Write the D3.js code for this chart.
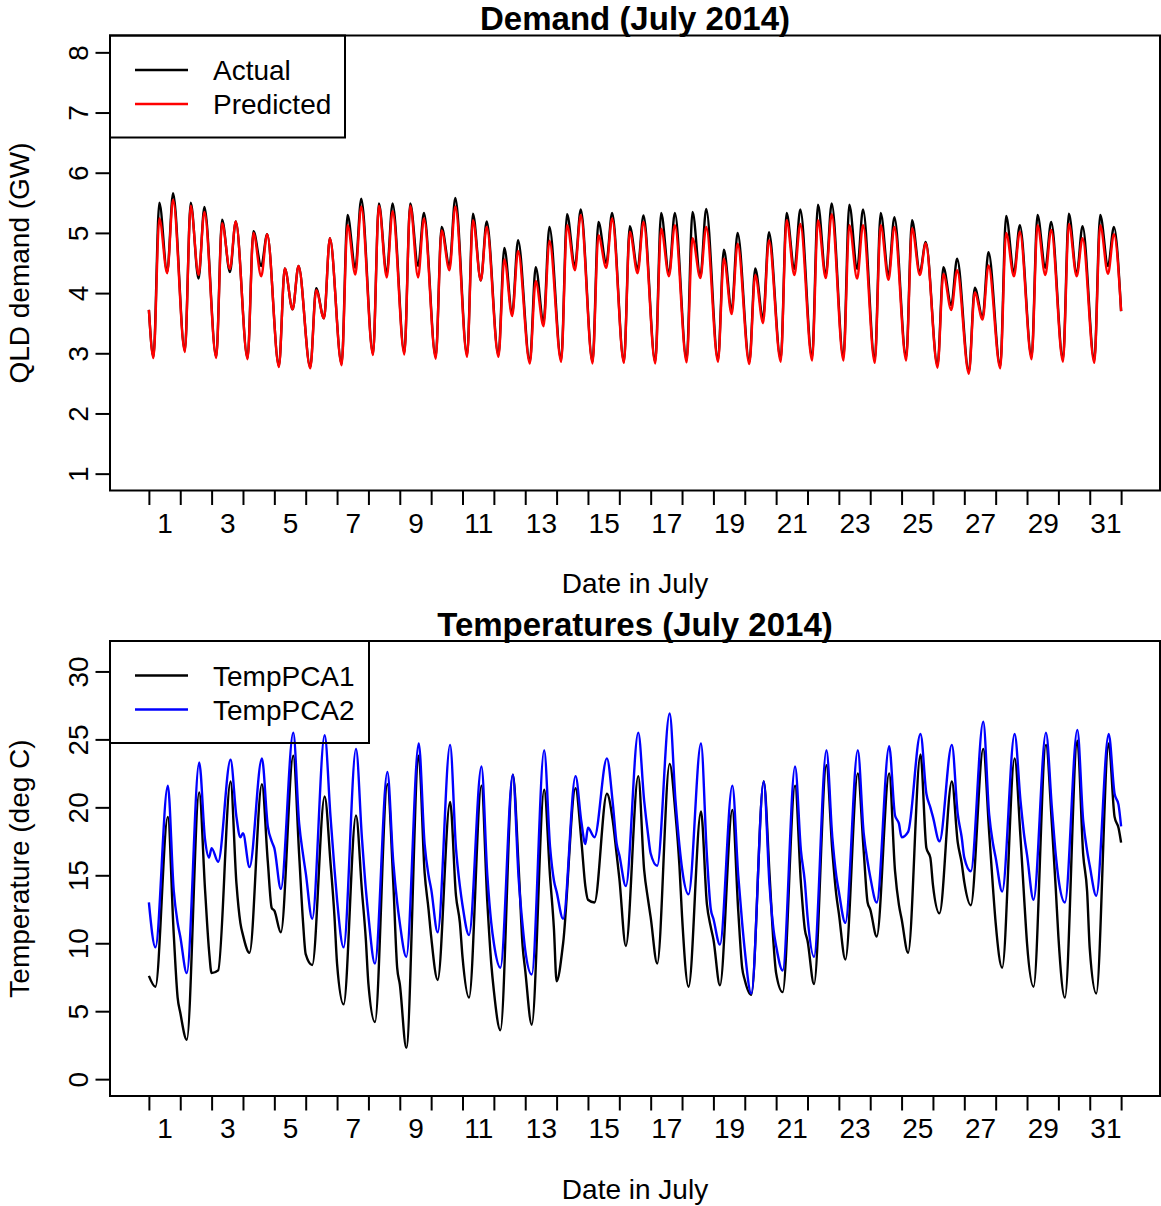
<!DOCTYPE html>
<html><head><meta charset="utf-8">
<script src="https://cdn.jsdelivr.net/npm/d3@7"></script>
<style>
body{margin:0;background:#fff}
svg{display:block}
text{font-family:"Liberation Sans",Arial,Helvetica,sans-serif;fill:#000}
</style>
</head><body>
<svg id="chart" width="1161" height="1206"></svg>
<script>
// ---------------- DATA ----------------
const nDays = 31;
const dayTickLabels = [1,3,5,7,9,11,13,15,17,19,21,23,25,27,29,31];
const demandTicks = [1,2,3,4,5,6,7,8];
const tempTicks = [0,5,10,15,20,25,30];

// demand (GW), per day read at hours [overnight min, morning peak, midday dip, evening peak]
const demandHours = [3.5, 8, 14, 18.5];
const demandEdges = [3.72, 3.70]; // value at 1 July 00:00 and at 1 Aug 00:00
const demandActual = [
 [2.94,5.50,4.35,5.66],[3.04,5.50,4.24,5.43],[2.94,5.22,4.35,5.19],[2.92,5.03,4.45,4.98],
 [2.79,4.41,3.73,4.45],[2.77,4.08,3.58,4.91],[2.82,5.30,4.42,5.57],[2.99,5.49,4.33,5.49],
 [3.01,5.49,4.45,5.33],[2.94,5.10,4.45,5.58],[2.97,5.32,4.21,5.19],[2.97,4.75,3.66,4.88],
 [2.86,4.43,3.52,5.10],[2.89,5.31,4.45,5.39],[2.86,5.18,4.50,5.33],[2.86,5.11,4.40,5.29],
 [2.86,5.33,4.32,5.33],[2.89,5.35,4.27,5.40],[2.89,4.72,3.72,5.00],[2.86,4.41,3.58,5.01],
 [2.90,5.33,4.40,5.39],[2.93,5.47,4.30,5.49],[2.93,5.47,4.40,5.39],[2.89,5.33,4.30,5.26],
 [2.93,5.21,4.35,4.85],[2.80,4.43,3.80,4.57],[2.69,4.09,3.60,4.68],[2.78,5.28,4.35,5.13],
 [2.94,5.30,4.42,5.18],[2.90,5.32,4.32,5.11],[2.88,5.30,4.45,5.10]
];
const demandPredicted = [
 [2.92,5.24,4.33,5.55],[3.02,5.45,4.30,5.35],[2.92,5.16,4.40,5.19],[2.90,5.00,4.28,4.98],
 [2.77,4.41,3.73,4.45],[2.75,4.05,3.58,4.91],[2.80,5.13,4.31,5.44],[2.97,5.45,4.26,5.36],
 [2.98,5.45,4.26,5.24],[2.91,5.04,4.38,5.44],[2.94,5.21,4.21,5.10],[2.94,4.56,3.62,4.70],
 [2.83,4.20,3.45,4.87],[2.86,5.13,4.38,5.30],[2.83,4.96,4.42,5.24],[2.84,5.02,4.33,5.18],
 [2.83,5.07,4.28,5.13],[2.85,4.91,4.25,5.10],[2.86,4.57,3.65,4.82],[2.82,4.30,3.50,4.88],
 [2.86,5.21,4.30,5.15],[2.88,5.21,4.25,5.31],[2.88,5.13,4.24,5.13],[2.84,5.13,4.22,5.10],
 [2.88,5.08,4.30,4.83],[2.76,4.32,3.72,4.38],[2.66,4.01,3.56,4.46],[2.75,5.00,4.28,5.02],
 [2.90,5.13,4.30,5.05],[2.86,5.15,4.28,4.91],[2.84,5.13,4.32,4.98]
];

// temperatures (deg C), per day read at hours below
const tempHours = [0, 5, 14.5, 19, 22];
const tempEnds = [17.4, 18.6]; // values at 1 Aug 00:00 (PCA1, PCA2)
const tempPCA1 = [
 [7.6,6.8,19.3,10.7,6.0],[4.9,2.9,21.1,13.9,9.5],[7.8,8.0,21.9,14.4,11.5],[10.6,9.3,21.7,16.0,12.6],
 [12.4,10.8,23.8,16.5,11.5],[9.2,8.4,20.8,15.9,12.0],[8.5,5.5,19.4,13.9,10.3],[7.0,4.2,21.7,14.5,8.2],
 [7.0,2.3,23.8,15.2,12.5],[10.5,7.3,20.4,13.5,11.5],[9.0,6.0,21.6,13.0,8.5],[6.5,3.6,22.4,15.5,9.8],
 [8.0,4.0,21.3,14.9,11.0],[7.2,10.0,21.4,17.5,14.2],[13.2,13.0,21.0,19.0,16.5],[14.8,9.8,22.3,15.4,13.2],
 [11.9,8.5,23.2,19.5,15.7],[12.0,6.8,19.7,12.9,11.2],[10.3,6.9,19.8,12.4,8.2],[7.3,6.2,21.9,15.0,10.0],
 [7.8,6.4,21.6,14.4,11.0],[10.2,7.0,23.1,16.8,13.6],[12.2,8.8,22.5,16.8,13.0],[12.5,10.5,22.5,15.3,12.8],
 [11.8,9.3,23.9,17.0,16.3],[14.3,12.2,21.9,17.4,15.9],[14.5,12.8,24.3,18.2,14.0],[11.5,8.2,23.6,17.8,13.0],
 [10.0,6.8,24.6,18.8,14.0],[10.5,6.0,24.9,16.5,13.8],[9.6,6.3,24.7,19.3,18.5]
];
const tempPCA2 = [
 [13.0,9.7,21.6,13.9,11.5],[10.5,7.8,23.3,17.6,16.3],[17.0,16.0,23.5,19.3,17.8],[18.1,15.6,23.6,18.6,17.5],
 [17.0,14.0,25.5,18.8,16.5],[15.2,11.8,25.3,19.3,15.5],[13.2,9.7,24.3,17.8,14.0],[12.0,8.5,22.6,16.0,13.0],
 [11.5,9.0,24.7,17.3,15.0],[14.0,10.8,24.6,17.0,14.2],[12.8,10.6,23.0,15.0,11.5],[10.0,8.2,22.4,14.7,11.3],
 [9.5,7.7,24.2,17.1,14.6],[13.8,11.8,22.3,18.9,17.3],[18.5,17.8,23.6,20.3,17.3],[16.5,14.2,25.5,20.5,18.0],
 [16.6,15.7,26.9,20.5,17.2],[15.5,13.6,24.7,16.5,12.5],[11.8,9.9,21.6,15.0,11.5],[9.5,6.3,21.9,14.2,11.0],
 [9.8,8.0,23.0,16.8,14.5],[12.0,9.0,24.2,17.8,15.0],[13.8,11.5,24.2,18.1,16.0],[14.9,13.0,24.5,19.4,18.8],
 [17.8,18.2,25.4,21.0,20.0],[19.3,17.5,24.6,19.5,17.8],[16.3,15.3,26.3,19.5,17.3],[16.3,13.8,25.4,20.5,17.8],
 [16.5,13.2,25.5,20.0,16.5],[14.8,13.0,25.7,19.0,16.8],[15.7,13.5,25.4,21.0,20.2]
];

// ---------------- BUILD ----------------
function toPoints(perDay, hours, startVal, endVal) {
  const pts = [];
  if (startVal != null) pts.push({t: 0, v: startVal});
  perDay.forEach((vals, d) => vals.forEach((v, k) => pts.push({t: d + hours[k] / 24, v})));
  pts.push({t: nDays, v: endVal});
  return pts;
}

const svg = d3.select('#chart');
const FS = 28;
const LW = 2.4;
const x = d3.scaleLinear().domain([-0.04 * nDays, nDays * 1.04]).range([110, 1160]);

function panel(o) {
  const g = svg.append('g');
  const y = d3.scaleLinear().domain(o.yDomain).range([o.bottom, o.top]);
  const line = d3.line().x(d => x(d.t)).y(d => y(d.v)).curve(d3.curveMonotoneX);
  o.series.forEach(s => {
    g.append('path').datum(s.points).attr('d', line)
      .attr('fill', 'none').attr('stroke', s.color).attr('stroke-width', LW)
      .attr('stroke-linejoin', 'round');
  });
  // box
  g.append('rect').attr('x', 110).attr('y', o.top).attr('width', 1050).attr('height', o.bottom - o.top)
    .attr('fill', 'none').attr('stroke', '#000').attr('stroke-width', 2);
  // x ticks at day boundaries
  const xt = g.append('g').attr('transform', `translate(0,${o.bottom})`)
    .call(d3.axisBottom(x).tickValues(d3.range(0, nDays + 1)).tickSize(14.5).tickFormat(''));
  xt.select('.domain').remove();
  xt.selectAll('line').attr('stroke', '#000').attr('stroke-width', 2);
  // x labels at noon of odd days
  const xl = g.append('g').attr('transform', `translate(0,${o.bottom})`)
    .call(d3.axisBottom(x).tickValues(dayTickLabels.map(d => d - 0.5)).tickSize(0)
      .tickFormat((d, i) => dayTickLabels[i]));
  xl.select('.domain').remove();
  xl.selectAll('text').attr('y', 42.2).attr('dy', null)
    .style('font-size', FS + 'px').style('font-family', '"Liberation Sans",Arial,sans-serif').attr('fill', '#000');
  // y axis
  const ya = g.append('g').attr('transform', 'translate(110,0)')
    .call(d3.axisLeft(y).tickValues(o.yTicks).tickSize(14.5));
  ya.select('.domain').remove();
  ya.selectAll('line').attr('stroke', '#000').attr('stroke-width', 2);
  ya.selectAll('text').attr('x', 0).attr('y', 0).attr('dy', null)
    .attr('transform', 'translate(-22,0) rotate(-90)').attr('text-anchor', 'middle')
    .style('font-size', FS + 'px').style('font-family', '"Liberation Sans",Arial,sans-serif').attr('fill', '#000');
  // titles
  g.append('text').attr('x', 635).attr('y', o.top - 5.5).attr('text-anchor', 'middle')
    .style('font-size', '33px').style('font-weight', 'bold').text(o.title);
  g.append('text').attr('x', 635).attr('y', o.bottom + 102.5).attr('text-anchor', 'middle')
    .style('font-size', FS + 'px').text('Date in July');
  g.append('text').attr('transform', `translate(29,${(o.top + o.bottom) / 2}) rotate(-90)`)
    .attr('text-anchor', 'middle').style('font-size', FS + 'px').text(o.ylabel);
  // legend
  const lg = g.append('g');
  lg.append('rect').attr('x', 110).attr('y', o.top).attr('width', o.legendW).attr('height', 102)
    .attr('fill', 'none').attr('stroke', '#000').attr('stroke-width', 2);
  o.series.forEach((s, i) => {
    const ly = o.top + 34.5 + i * 34;
    lg.append('line').attr('x1', 135).attr('x2', 188).attr('y1', ly).attr('y2', ly)
      .attr('stroke', s.color).attr('stroke-width', LW);
    lg.append('text').attr('x', 213).attr('y', ly + 10).style('font-size', FS + 'px').text(s.name);
  });
}

panel({
  top: 35.5, bottom: 490.5, yDomain: [0.72, 8.28], yTicks: demandTicks,
  title: 'Demand (July 2014)', ylabel: 'QLD demand (GW)', legendW: 235,
  series: [
    {name: 'Actual', color: '#000000', points: toPoints(demandActual, demandHours, demandEdges[0], demandEdges[1])},
    {name: 'Predicted', color: '#ff0000', points: toPoints(demandPredicted, demandHours, demandEdges[0], demandEdges[1])}
  ]
});

panel({
  top: 641, bottom: 1096, yDomain: [-1.24, 32.24], yTicks: tempTicks,
  title: 'Temperatures (July 2014)', ylabel: 'Temperature (deg C)', legendW: 259,
  series: [
    {name: 'TempPCA1', color: '#000000', points: toPoints(tempPCA1, tempHours, null, tempEnds[0])},
    {name: 'TempPCA2', color: '#0000ff', points: toPoints(tempPCA2, tempHours, null, tempEnds[1])}
  ]
});
</script>
</body></html>
